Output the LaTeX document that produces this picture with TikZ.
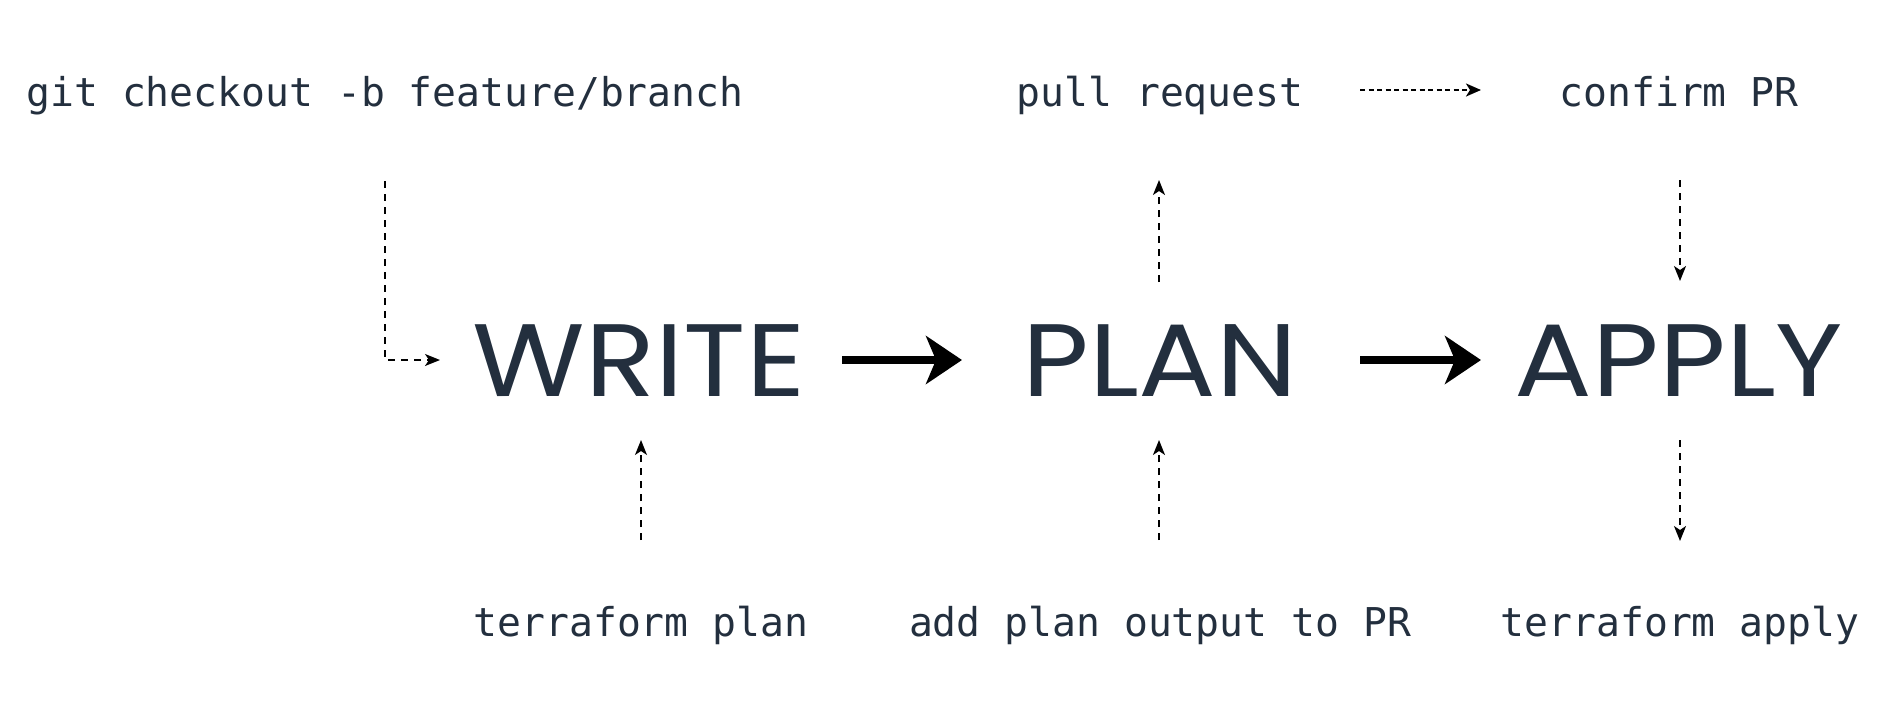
\documentclass[tikz,border=0pt]{standalone}
\usepackage{fontspec}
\usetikzlibrary{arrows.meta}
\newfontfamily\codefont{DejaVu Sans Mono}
\newfontfamily\bigfont[FakeStretch=1.12]{Poppins}
\definecolor{ink}{RGB}{35,47,62}
\begin{document}
\begin{tikzpicture}[x=1pt,y=-1pt,
  code/.style={font=\codefont\fontsize{39.7}{44}\selectfont, text=ink, inner sep=0pt, anchor=base},
  stage/.style={font=\bigfont\fontsize{103}{110}\selectfont, text=ink, inner sep=0pt, anchor=base},
  dashlink/.style={draw=black, line width=1.6pt, dash pattern=on 7pt off 6pt, -{Stealth[length=15pt,width=12pt,inset=4pt]}},
  dotlink/.style={draw=black, line width=2.2pt, dash pattern=on 5pt off 3.5pt, -{Stealth[length=15pt,width=13pt,inset=4pt]}},
  thick arrow/.style={draw=black, line width=8pt, -{Stealth[length=36pt,width=48pt,inset=10pt]}}]
\useasboundingbox (0,0) rectangle (1882,702);
% stages
\node[stage] (write) at (639,396) {WRITE};
\node[stage] (plan) at (1160,396) {PLAN};
\node[stage] (apply) at (1679,396) {APPLY};
% labels
\node[code] (git) at (385,106) {git checkout -b feature/branch};
\node[code] (pull) at (1160,106) {pull request};
\node[code] (confirm) at (1679,106) {confirm PR};
\node[code] (tfplan) at (641,636) {terraform plan};
\node[code] (addplan) at (1160,636) {add plan output to PR};
\node[code] (tfapply) at (1680,636) {terraform apply};
% connector coordinates
\coordinate (gitS) at (385,181);
\coordinate (gitC) at (385,360);
\coordinate (writeW) at (440,360);
\coordinate (planN) at (1159,282);
\coordinate (pullS) at (1159,180);
\coordinate (confS) at (1680,180);
\coordinate (applyN) at (1680,281);
\coordinate (tpN) at (641,540);
\coordinate (writeS) at (641,440);
\coordinate (apN) at (1159,540);
\coordinate (planS) at (1159,440);
\coordinate (applyS) at (1680,440);
\coordinate (taN) at (1680,541);
\coordinate (pullE) at (1360,90);
\coordinate (confW) at (1481,90);
\coordinate (w2p1) at (842,360);
\coordinate (w2p2) at (962,360);
\coordinate (p2a1) at (1360,360);
\coordinate (p2a2) at (1481,360);
% dashed connectors
\draw[dashlink] (gitS) -- (gitC) -- (writeW);
\draw[dashlink] (planN) -- (pullS);
\draw[dashlink] (confS) -- (applyN);
\draw[dashlink] (tpN) -- (writeS);
\draw[dashlink] (apN) -- (planS);
\draw[dashlink] (applyS) -- (taN);
\draw[dotlink] (pullE) -- (confW);
% main flow
\draw[thick arrow] (w2p1) -- (w2p2);
\draw[thick arrow] (p2a1) -- (p2a2);
\end{tikzpicture}
\end{document}
